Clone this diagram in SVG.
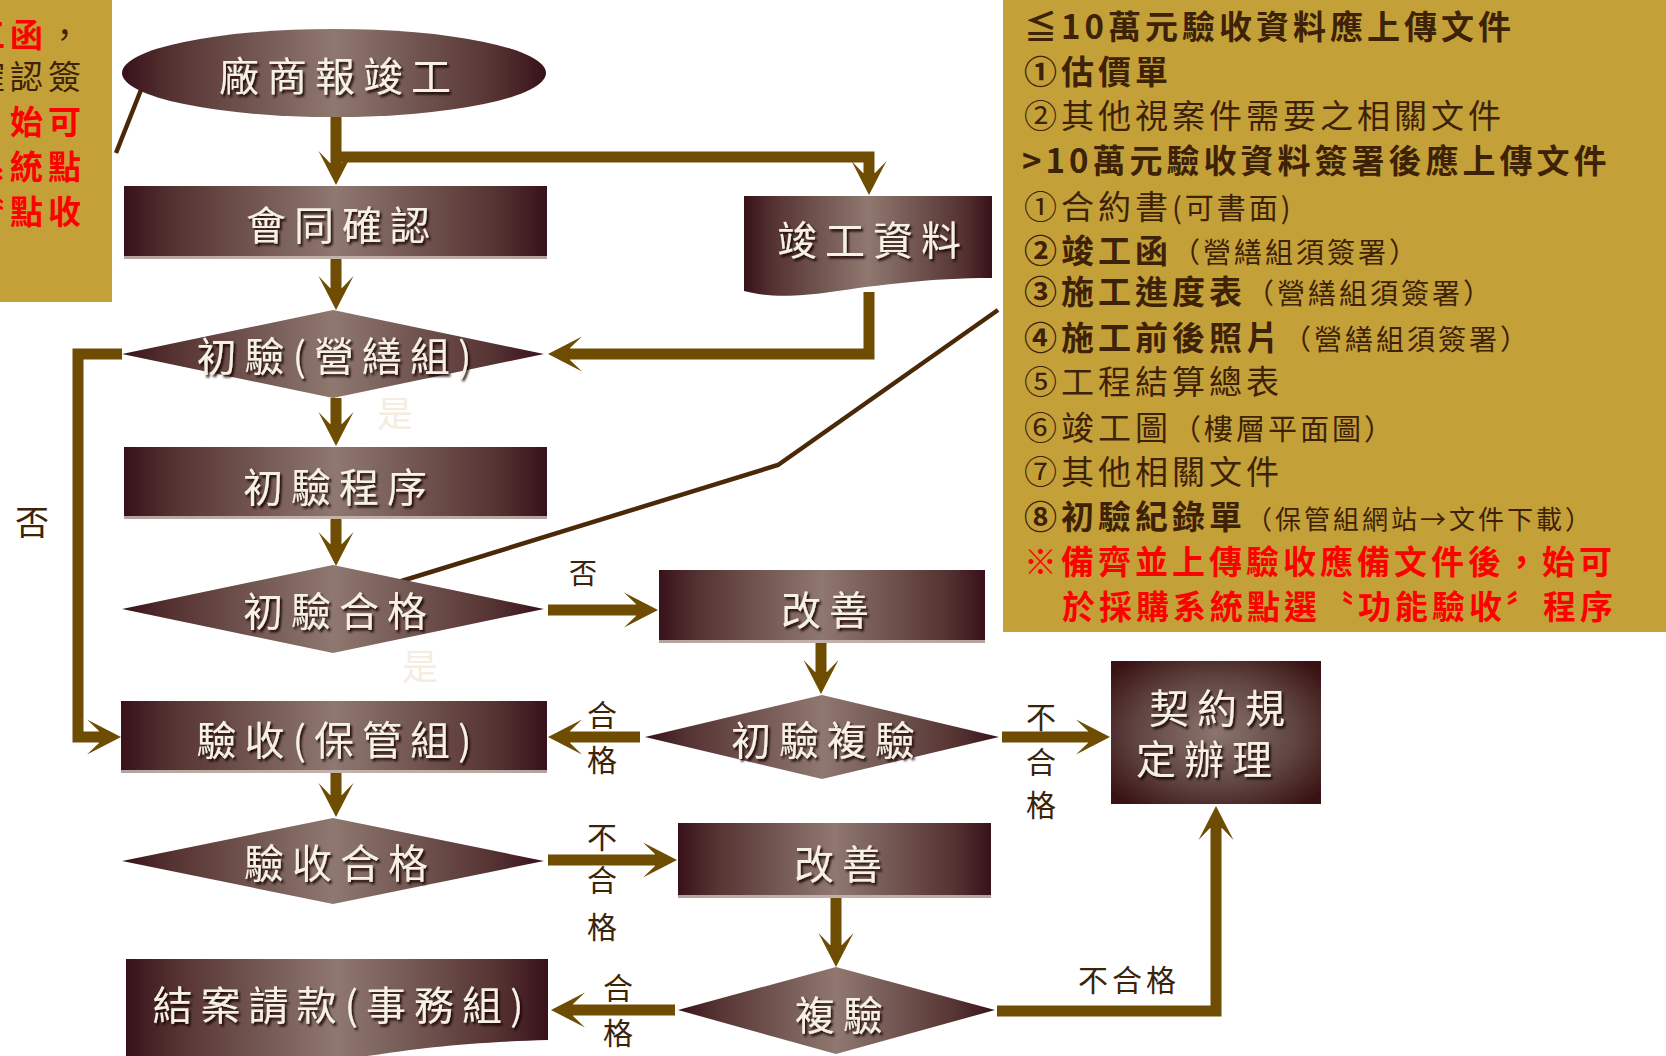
<svg xmlns="http://www.w3.org/2000/svg" width="1666" height="1056" viewBox="0 0 1666 1056">
<defs>
<style>
.nt{font-family:"Noto Sans CJK TC","Noto Sans CJK SC",sans-serif;font-size:40px;fill:#f7f1e4;letter-spacing:8px;text-anchor:middle;filter:url(#sh)}
.lbl{font-family:"Noto Sans CJK TC","Noto Sans CJK SC",sans-serif;font-size:30px;fill:#3c2408;text-anchor:middle}
.yes{font-family:"Noto Sans CJK TC","Noto Sans CJK SC",sans-serif;font-size:36px;fill:#f4ede0;text-anchor:middle}
.conn{fill:none;stroke:#6e4c02;stroke-width:11;stroke-linejoin:miter;marker-end:url(#ah)}
.callout{fill:none;stroke:#4a2808;stroke-width:4.5}
.gold{fill:#c4a038}
.box{fill:url(#gH)}
.rbox{fill:url(#gR)}
.edge{fill:#cbbcb5;opacity:0.85}
.rt{font-family:"Noto Sans CJK TC","Noto Sans CJK SC",sans-serif;font-size:33px;fill:#3e2207;letter-spacing:4px}
.lt{font-family:"Noto Sans CJK TC","Noto Sans CJK SC",sans-serif;font-size:33px;fill:#3e2207;letter-spacing:5px}
.b{font-weight:700}
.sm{font-size:28px;letter-spacing:3px;font-weight:400}
.red{fill:#ff0000;font-weight:700}
</style>
<linearGradient id="gH" x1="0" y1="0" x2="1" y2="0">
<stop offset="0" stop-color="#38111a"/>
<stop offset="0.12" stop-color="#553332"/>
<stop offset="0.5" stop-color="#8f7870"/>
<stop offset="0.88" stop-color="#553332"/>
<stop offset="1" stop-color="#38111a"/>
</linearGradient>
<radialGradient id="gR" cx="0.5" cy="0.5" r="0.65">
<stop offset="0" stop-color="#8c756e"/>
<stop offset="0.6" stop-color="#5e4340"/>
<stop offset="1" stop-color="#3a1214"/>
</radialGradient>
<filter id="sh" x="-10%" y="-30%" width="125%" height="170%">
<feDropShadow dx="2" dy="2.5" stdDeviation="1" flood-color="#140604" flood-opacity="0.9"/>
</filter>
<marker id="ah" viewBox="-36 -20 38 40" refX="-20" refY="0" markerWidth="38" markerHeight="40" markerUnits="userSpaceOnUse" orient="auto">
<path d="M0,0 L-34,-17.5 L-22,-6 L-22,6 L-34,17.5 Z" fill="#6e4c02"/>
</marker>
</defs>

<rect width="1666" height="1056" fill="#ffffff"/>

<!-- left note -->
<g id="note-left">
<rect class="gold" x="0" y="0" width="112" height="302"/>
<text class="lt" x="-28" y="47"><tspan class="red">工函</tspan>，</text>
<text class="lt" x="-28" y="89">確認簽</text>
<text class="lt red" x="-28" y="134">，始可</text>
<text class="lt red" x="-28" y="179">系統點</text>
<text class="lt red" x="-28" y="224">〝點收</text>
</g>

<!-- right note -->
<g id="note-right">
<rect class="gold" x="1003" y="0" width="663" height="632"/>
<text class="rt b" x="1024" y="39">≦10萬元驗收資料應上傳文件</text>
<text class="rt b" x="1024" y="84">①估價單</text>
<text class="rt" x="1024" y="128">②其他視案件需要之相關文件</text>
<text class="rt b" x="1022" y="173">&gt;10萬元驗收資料簽署後應上傳文件</text>
<text class="rt" x="1024" y="219">①合約書<tspan class="sm" style="font-size:29px">(可書面)</tspan></text>
<text class="rt" x="1024" y="263"><tspan class="b">②竣工函</tspan><tspan class="sm">（營繕組須簽署）</tspan></text>
<text class="rt" x="1024" y="304"><tspan class="b">③施工進度表</tspan><tspan class="sm">（營繕組須簽署）</tspan></text>
<text class="rt" x="1024" y="350"><tspan class="b">④施工前後照片</tspan><tspan class="sm">（營繕組須簽署）</tspan></text>
<text class="rt" x="1024" y="394">⑤工程結算總表</text>
<text class="rt" x="1024" y="440">⑥竣工圖<tspan class="sm" style="font-size:29px;letter-spacing:3px">（樓層平面圖）</tspan></text>
<text class="rt" x="1024" y="484">⑦其他相關文件</text>
<text class="rt" x="1024" y="529"><tspan class="b">⑧初驗紀錄單</tspan><tspan class="sm" style="font-size:26px;letter-spacing:3px">（保管組網站→文件下載）</tspan></text>
<text class="rt red" x="1024" y="574">※備齊並上傳驗收應備文件後，始可</text>
<text class="rt red" x="1062" y="619">於採購系統點選〝功能驗收〞程序</text>
</g>

<!-- callout lines -->
<g id="callouts">
<line class="callout" x1="116" y1="153" x2="152" y2="62"/>
<polyline class="callout" points="395,583 778,465 998,310"/>
</g>

<!-- connectors -->
<g id="connectors">
<path class="conn" d="M336,117 V165"/>
<path class="conn" d="M336,157 H869 V175"/>
<path class="conn" d="M336,259 V290"/>
<path class="conn" d="M869,292 V354 H568"/>
<path class="conn" d="M122,354 H78 V737 H101"/>
<path class="conn" d="M336,398 V426"/>
<path class="conn" d="M336,519 V546"/>
<path class="conn" d="M548,610 H638"/>
<path class="conn" d="M821,643 V674"/>
<path class="conn" d="M640,737 H568"/>
<path class="conn" d="M1002,737 H1090"/>
<path class="conn" d="M336,773 V797"/>
<path class="conn" d="M548,860 H657"/>
<path class="conn" d="M836,898 V947"/>
<path class="conn" d="M675,1010 H571"/>
<path class="conn" d="M997,1011 H1216 V826"/>
</g>

<!-- nodes -->
<g id="n-vendor">
<ellipse class="box" cx="334" cy="73" rx="212" ry="44"/>
<text class="nt" x="339" y="91">廠商報竣工</text>
</g>
<g id="n-confirm">
<rect class="box" x="124" y="186" width="423" height="73"/>
<rect class="edge" x="124" y="256" width="423" height="3"/>
<text class="nt" x="342" y="240">會同確認</text>
</g>
<g id="n-docs">
<path class="box" d="M744,196 H992 V278 C930,278 880,285 830,292 C790,298 762,296 744,291 Z"/>
<text class="nt" x="873" y="255">竣工資料</text>
</g>
<g id="n-prelim">
<polygon class="box" points="122,354 333,310 544,354 333,398"/>
<text class="nt" x="338" y="371">初驗(營繕組)</text>
</g>
<g id="n-prelim-proc">
<rect class="box" x="124" y="447" width="423" height="72"/>
<rect class="edge" x="124" y="516" width="423" height="3"/>
<text class="nt" x="339" y="502">初驗程序</text>
</g>
<g id="n-prelim-pass">
<polygon class="box" points="122,609 333,565 544,609 333,653"/>
<text class="nt" x="339" y="626">初驗合格</text>
</g>
<g id="n-improve1">
<rect class="box" x="659" y="570" width="326" height="73"/>
<rect class="edge" x="659" y="640" width="326" height="3"/>
<text class="nt" x="829" y="625">改善</text>
</g>
<g id="n-prelim-recheck">
<polygon class="box" points="645,737 822,695 999,737 822,779"/>
<text class="nt" x="827" y="755">初驗複驗</text>
</g>
<g id="n-contract">
<rect class="rbox" x="1111" y="661" width="210" height="143"/>
<text class="nt" x="1221" y="723">契約規</text>
<text class="nt" x="1208" y="774">定辦理</text>
</g>
<g id="n-accept">
<rect class="box" x="121" y="701" width="426" height="72"/>
<rect class="edge" x="121" y="770" width="426" height="3"/>
<text class="nt" x="338" y="755">驗收(保管組)</text>
</g>
<g id="n-accept-pass">
<polygon class="box" points="122,861 333,818 544,861 333,904"/>
<text class="nt" x="340" y="878">驗收合格</text>
</g>
<g id="n-improve2">
<rect class="box" x="678" y="823" width="313" height="75"/>
<rect class="edge" x="678" y="895" width="313" height="3"/>
<text class="nt" x="842" y="879">改善</text>
</g>
<g id="n-recheck">
<polygon class="box" points="678,1010 836,967 995,1010 836,1054"/>
<text class="nt" x="843" y="1030">複驗</text>
</g>
<g id="n-close">
<path class="box" d="M126,959 H548 V1040 C470,1042 420,1048 367,1056 L126,1066 Z"/>
<text class="nt" x="342" y="1020">結案請款(事務組)</text>
</g>

<!-- labels -->
<g id="labels">
<text class="lbl" x="32" y="535" style="font-size:34px">否</text>
<text class="lbl" x="583" y="584" style="font-size:28px">否</text>
<text class="lbl" x="602" y="726">合</text>
<text class="lbl" x="602" y="771">格</text>
<text class="lbl" x="1041" y="728">不</text>
<text class="lbl" x="1041" y="773">合</text>
<text class="lbl" x="1041" y="816">格</text>
<text class="lbl" x="602" y="848">不</text>
<text class="lbl" x="602" y="891">合</text>
<text class="lbl" x="602" y="938">格</text>
<text class="lbl" x="618" y="999">合</text>
<text class="lbl" x="618" y="1044">格</text>
<text class="lbl" x="1129" y="991" style="letter-spacing:4px">不合格</text>
<text class="yes" x="395" y="427">是</text>
<text class="yes" x="420" y="680">是</text>
</g>
</svg>
